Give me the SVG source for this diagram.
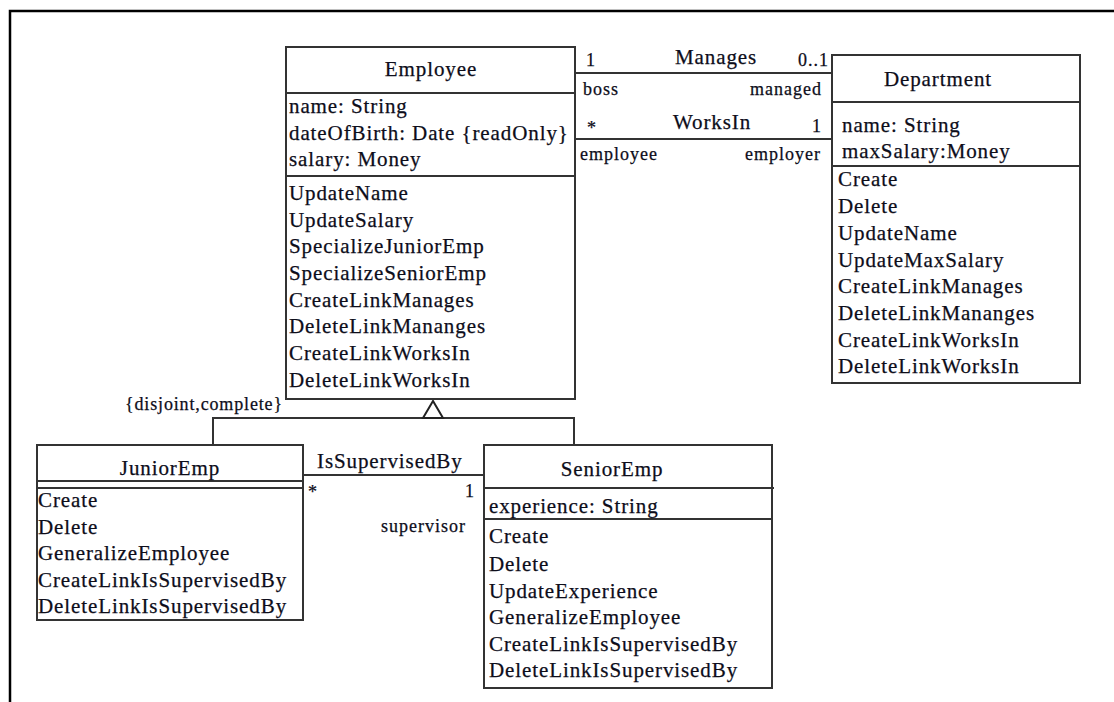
<svg xmlns="http://www.w3.org/2000/svg" width="1114" height="702" viewBox="0 0 1114 702">
  <style>
    .box { fill: #fff; stroke: #333; stroke-width: 2; }
    .div { stroke: #333; stroke-width: 2; fill: none; }
    .ln { stroke: #333; stroke-width: 2; fill: none; }
    text { font-family: "Liberation Serif", "Times New Roman", serif; fill: #0d0d1a; stroke: #0d0d1a; stroke-width: 0.25px; }
    .t { font-size: 21px; letter-spacing: 0.9px; }
    .c { text-anchor: middle; }
    .s { font-size: 18px; letter-spacing: 1px; }
    .e { text-anchor: end; }
  </style>

  <!-- page frame -->
  <path d="M10 702 V11 H1114" fill="none" stroke="#000" stroke-width="2.5"/>

  <!-- connectors -->
  <g id="connectors">
    <line class="ln" x1="575" y1="73" x2="832" y2="73"/>
    <line class="ln" x1="575" y1="139" x2="832" y2="139"/>
    <line class="ln" x1="303" y1="475" x2="484" y2="475"/>
    <path class="ln" d="M213 445 V418 H574 V445"/>
    <polygon points="433,401 423,418 443,418" fill="#fff" stroke="#222" stroke-width="2"/>

    <text class="s" x="586" y="66">1</text>
    <text class="t" x="675" y="64">Manages</text>
    <text class="s e" x="829" y="66">0..1</text>
    <text class="s" x="583" y="95">boss</text>
    <text class="s e" x="822" y="95">managed</text>
    <text class="s" x="587" y="134">*</text>
    <text class="t" x="673" y="129">WorksIn</text>
    <text class="s" x="812" y="132">1</text>
    <text class="s" x="580" y="160">employee</text>
    <text class="s e" x="821" y="160">employer</text>

    <text class="t" x="317" y="468">IsSupervisedBy</text>
    <text class="s" x="308" y="498">*</text>
    <text class="s" x="465" y="497">1</text>
    <text class="s" x="381" y="532">supervisor</text>

    <text x="125" y="410" style="font-size:18px;letter-spacing:0.85px">{disjoint,complete}</text>
  </g>

  <!-- Employee -->
  <g id="employee">
    <rect class="box" x="286" y="47" width="289" height="352"/>
    <line class="div" x1="286" y1="93" x2="575" y2="93"/>
    <line class="div" x1="286" y1="176" x2="575" y2="176"/>
    <text class="t c" x="431" y="76">Employee</text>
    <text class="t" x="289" y="113">name: String</text>
    <text class="t" x="289" y="140">dateOfBirth: Date {readOnly}</text>
    <text class="t" x="289" y="166">salary: Money</text>
    <text class="t" x="289" y="200">UpdateName</text>
    <text class="t" x="289" y="227">UpdateSalary</text>
    <text class="t" x="289" y="253">SpecializeJuniorEmp</text>
    <text class="t" x="289" y="280">SpecializeSeniorEmp</text>
    <text class="t" x="289" y="307">CreateLinkManages</text>
    <text class="t" x="289" y="333">DeleteLinkMananges</text>
    <text class="t" x="289" y="360">CreateLinkWorksIn</text>
    <text class="t" x="289" y="387">DeleteLinkWorksIn</text>
  </g>

  <!-- Department -->
  <g id="department">
    <rect class="box" x="832" y="55" width="248" height="328"/>
    <line class="div" x1="832" y1="102" x2="1080" y2="102"/>
    <line class="div" x1="832" y1="166" x2="1080" y2="166"/>
    <text class="t c" x="938" y="86">Department</text>
    <text class="t" x="842" y="132">name: String</text>
    <text class="t" x="842" y="158">maxSalary:Money</text>
    <text class="t" x="838" y="186">Create</text>
    <text class="t" x="838" y="213">Delete</text>
    <text class="t" x="838" y="240">UpdateName</text>
    <text class="t" x="838" y="267">UpdateMaxSalary</text>
    <text class="t" x="838" y="293">CreateLinkManages</text>
    <text class="t" x="838" y="320">DeleteLinkMananges</text>
    <text class="t" x="838" y="347">CreateLinkWorksIn</text>
    <text class="t" x="838" y="373">DeleteLinkWorksIn</text>
  </g>

  <!-- JuniorEmp -->
  <g id="junior-emp">
    <rect class="box" x="37" y="445" width="266" height="175"/>
    <line class="div" x1="37" y1="481" x2="303" y2="481"/>
    <line class="div" x1="37" y1="488" x2="303" y2="488"/>
    <text class="t c" x="170" y="475">JuniorEmp</text>
    <text class="t" x="38" y="507">Create</text>
    <text class="t" x="38" y="534">Delete</text>
    <text class="t" x="38" y="560">GeneralizeEmployee</text>
    <text class="t" x="38" y="587">CreateLinkIsSupervisedBy</text>
    <text class="t" x="38" y="613">DeleteLinkIsSupervisedBy</text>
  </g>

  <!-- SeniorEmp -->
  <g id="senior-emp">
    <rect class="box" x="484" y="445" width="288" height="243"/>
    <line class="div" x1="484" y1="488" x2="774" y2="488"/>
    <line class="div" x1="484" y1="519" x2="772" y2="519"/>
    <text class="t c" x="612" y="476">SeniorEmp</text>
    <text class="t" x="489" y="513">experience: String</text>
    <text class="t" x="489" y="543">Create</text>
    <text class="t" x="489" y="571">Delete</text>
    <text class="t" x="489" y="598">UpdateExperience</text>
    <text class="t" x="489" y="624">GeneralizeEmployee</text>
    <text class="t" x="489" y="651">CreateLinkIsSupervisedBy</text>
    <text class="t" x="489" y="677">DeleteLinkIsSupervisedBy</text>
  </g>
</svg>
